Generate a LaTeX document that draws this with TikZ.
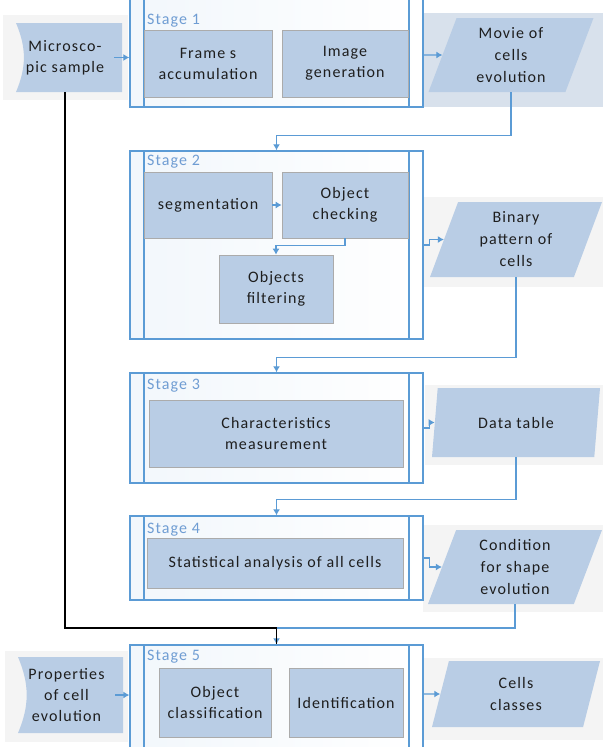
\documentclass[tikz,border=0pt]{standalone}
\usepackage{fontspec}
\setmainfont{Carlito}
\newfontfamily\diagramfont[LetterSpace=7]{Carlito}
\usetikzlibrary{arrows.meta,shapes.geometric}
\definecolor{boxblue}{HTML}{B9CDE5}
\definecolor{boxline}{HTML}{ABABAB}
\definecolor{stageblue}{HTML}{5B9BD5}
\definecolor{labelblue}{HTML}{6F9DD3}
\definecolor{moviebg}{HTML}{D8E1EC}
\definecolor{panelgrey}{HTML}{F4F4F4}
\definecolor{textdark}{HTML}{1E1E1E}
\tikzset{
    diagramstage/.style={rectangle, draw=stageblue, line width=1.4pt, left color=stageblue!8, right color=white, inner sep=0pt, minimum width=293pt,
        path picture={\draw[stageblue, line width=1.4pt]
            ([xshift=14pt]path picture bounding box.north west) -- ([xshift=14pt]path picture bounding box.south west)
            ([xshift=-14pt]path picture bounding box.north east) -- ([xshift=-14pt]path picture bounding box.south east);}},
    diagramstep/.style={rectangle, fill=boxblue, draw=boxline, line width=0.6pt, align=center, text=textdark, inner sep=0pt, font=\diagramfont\fontsize{16}{21}\selectfont},
    diagramdata/.style={trapezium, trapezium left angle=63, trapezium right angle=117, trapezium stretches body, fill=boxblue, align=center, text=textdark, inner sep=0pt, font=\diagramfont\fontsize{16}{22}\selectfont},
    diagramstore/.style={rectangle, fill=panelgrey, align=center, text=textdark, inner sep=0pt, font=\diagramfont\fontsize{16}{21}\selectfont,
        path picture={\fill[boxblue]
            ([xshift=8pt]path picture bounding box.north west) -- (path picture bounding box.north east)
            to[bend left=23] (path picture bounding box.south east) -- ([xshift=8pt]path picture bounding box.south west)
            to[bend right=23] ([xshift=8pt]path picture bounding box.north west);}},
    diagramlabel/.style={anchor=west, text=labelblue, inner sep=0pt, font=\diagramfont\fontsize{16}{18}\selectfont},
    diagramarrow/.style={draw=stageblue, line width=1.1pt, -{Latex[length=6pt, width=7pt]}},
    diagramlink/.style={draw=black, line width=1.1pt}
}
\begin{document}
\begin{tikzpicture}[x=1pt, y=-1pt]
    \useasboundingbox (0,0) rectangle (603,747);
    % panels behind the data shapes
    \fill[moviebg] (424,13) rectangle (603,107);
    \fill[panelgrey] (423,197) rectangle (603,287);
    \fill[panelgrey] (425,385) rectangle (603,465);
    \fill[panelgrey] (423,525) rectangle (603,612);
    \fill[panelgrey] (423,658) rectangle (603,740);
    \fill[panelgrey] (3,15) rectangle (128,100);
    \fill[panelgrey] (5,651) rectangle (128,742);

    % stages
    \node[diagramstage, minimum height=112pt] (stage1) at (276.5,51) {};
    \node[diagramstage, minimum height=188pt] (stage2) at (276.5,245) {};
    \node[diagramstage, minimum height=110pt] (stage3) at (276.5,428) {};
    \node[diagramstage, minimum height=84pt] (stage4) at (276.5,558) {};
    \node[diagramstage, minimum height=115pt] (stage5) at (276.5,702.5) {};
    \node[diagramlabel] (lab1) at (147,21) {Stage 1};
    \node[diagramlabel] (lab2) at (147,162) {Stage 2};
    \node[diagramlabel] (lab3) at (147,386) {Stage 3};
    \node[diagramlabel] (lab4) at (147,530) {Stage 4};
    \node[diagramlabel] (lab5) at (147,657) {Stage 5};

    % steps
    \node[diagramstep, minimum width=128pt, minimum height=67pt] (frames) at (208,63.5) {Frame s\\accumulation};
    \node[diagramstep, minimum width=126pt, minimum height=67pt] (imagegen) at (345,63.5) {Image\\generation};
    \node[diagramstep, minimum width=128pt, minimum height=66pt] (segment) at (208,205) {segmentation};
    \node[diagramstep, minimum width=126pt, minimum height=66pt] (checking) at (345,205) {Object\\checking};
    \node[diagramstep, minimum width=114pt, minimum height=68pt] (filtering) at (276,289) {Objects\\filtering};
    \node[diagramstep, minimum width=254pt, minimum height=67pt] (measure) at (276,433.5) {Characteristics\\measurement};
    \node[diagramstep, minimum width=256pt, minimum height=50pt] (statistics) at (275,563) {Statistical analysis of all cells};
    \node[diagramstep, minimum width=112pt, minimum height=69pt] (classify) at (215,702.5) {Object\\classification};
    \node[diagramstep, minimum width=114pt, minimum height=69pt] (identify) at (346,702.5) {Identification};

    % inputs and outputs
    \node[diagramstore, minimum width=114pt, minimum height=69pt] (sample) at (65,57.5) {Microsco-\\pic sample};
    \node[diagramstore, minimum width=113pt, minimum height=76pt] (props) at (66.5,695) {Properties\\of cell\\evolution};
    \node[diagramdata, minimum width=165pt, minimum height=74pt] (movie) at (511,55) {Movie of\\cells\\evolution};
    \node[diagramdata, minimum width=172pt, minimum height=75pt] (binary) at (516,239.5) {Binary\\pattern of\\cells};
    \node[diagramdata, minimum width=168pt, minimum height=69pt] (datatable) at (516,422.5) {Data table};
    \node[diagramdata, minimum width=174pt, minimum height=74pt] (condition) at (515,567) {Condition\\for shape\\evolution};
    \node[diagramdata, minimum width=168pt, minimum height=66pt] (classes) at (516,694) {Cells\\classes};
    \coordinate (merge) at (276.5,628);

    \draw[diagramarrow] ([xshift=-8pt]sample.east) -- (sample -| stage1.west);
    \draw[diagramarrow] (stage1.east |- movie) -- (movie);
    \draw[diagramarrow] (movie.south) -- ++(0,43) -| (stage2.north);
    \draw[diagramarrow] (segment) -- (checking);
    \draw[diagramarrow] (checking.south) -- ++(0,7) -| (filtering.north);
    \draw[diagramarrow] (stage2.east) -- ++(6,0) |- (binary);
    \draw[diagramarrow] (binary.south) -- ++(0,80) -| (stage3.north);
    \draw[diagramarrow] (stage3.east) -- ++(6,0) |- (datatable);
    \draw[diagramarrow] (datatable.south) -- ++(0,42) -| (stage4.north);
    \draw[diagramarrow] (stage4.east) -- ++(6,0) |- (condition);
    \draw[diagramarrow] (condition.south) |- (merge) -- (stage5.north);
    \draw[diagramlink] (sample.south) |- (merge) -- (stage5.north);
    \draw[diagramarrow] ([xshift=-8pt]props.east) -- (props -| stage5.west);
    \draw[diagramarrow] (stage5.east |- classes) -- (classes);
\end{tikzpicture}
\end{document}
